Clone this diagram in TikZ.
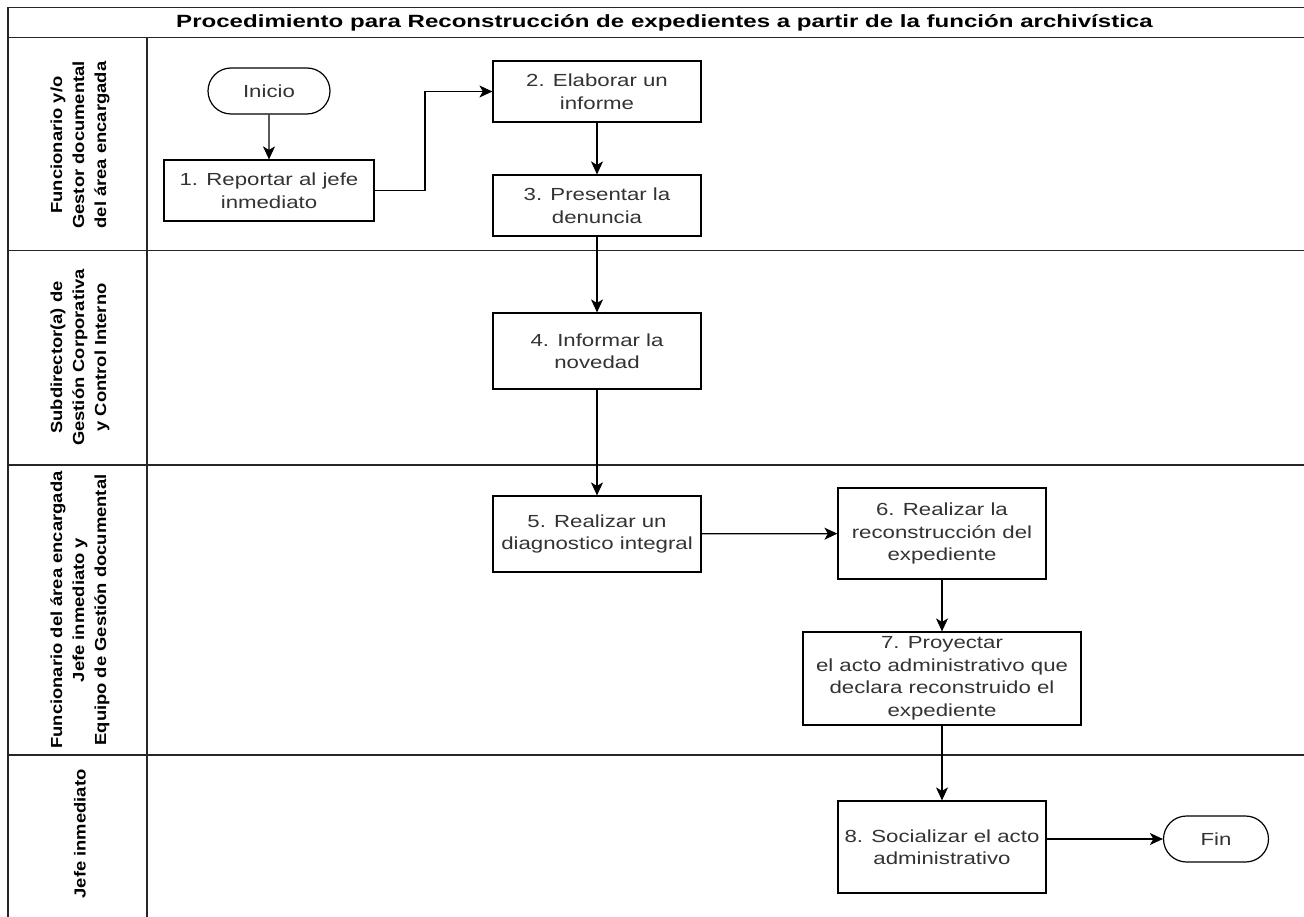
\documentclass[tikz,border=0pt]{standalone}
\usepackage{fontspec}
\setmainfont{Liberation Sans}
\newfontfamily\nodefont[FakeStretch=1.27]{Liberation Sans}
\newfontfamily\titlefont[FakeStretch=1.36]{Liberation Sans}
\newfontfamily\lanefont[FakeStretch=1.15]{Liberation Sans}
\usetikzlibrary{arrows.meta,shapes.misc}
\tikzset{
  laneline/.style={draw=black!85, line width=1.6pt},
  procbox/.style={draw=black, line width=1.2pt, fill=white, align=center, inner sep=0pt,
    text=black!80, font=\nodefont\fontsize{17.5}{22.5}\selectfont},
  termin/.style={rounded rectangle, draw=black, line width=1.2pt, fill=white, inner sep=0pt,
    text=black!80, font=\nodefont\fontsize{17.5}{22.5}\selectfont},
  flow/.style={-{Stealth[length=13pt,width=12pt,inset=3.5pt]}, line width=1.2pt},
  lanelbl/.style={rotate=90, align=center, text=black, font=\lanefont\bfseries\fontsize{16}{22}\selectfont},
  titlelbl/.style={text=black, font=\titlefont\bfseries\fontsize{17.7}{20}\selectfont}
}
\begin{document}
\begin{tikzpicture}[x=1pt,y=-1pt]
\useasboundingbox (0,0) rectangle (1304,917);
\clip (0,0) rectangle (1304,917);
\fill[white] (0,0) rectangle (1304,917);
% pool frame
\draw[laneline] (8,7.5) -- (1330,7.5);
\draw[laneline] (8,37.5) -- (1330,37.5);
\draw[laneline] (8,7.5) -- (8,940);
\draw[laneline] (147,37.5) -- (147,940);
\draw[laneline] (8,250.5) -- (1330,250.5);
\draw[laneline] (8,465) -- (1330,465);
\draw[laneline] (8,755) -- (1330,755);
% title
\node[titlelbl] (title) at (664.5,22.5) {Procedimiento para Reconstrucción de expedientes a partir de la función archivística};
% lane labels
\node[lanelbl] (l1) at (80,145) {Funcionario y/o\\Gestor documental\\del área encargada};
\node[lanelbl] (l2) at (80,357.5) {Subdirector(a) de\\Gestión Corporativa\\y Control Interno};
\node[lanelbl] (l3) at (80,610) {Funcionario del área encargada\\Jefe inmediato y\\Equipo de Gestión documental};
\node[lanelbl] (l4) at (80,834) {Jefe inmediato};
% nodes
\node[termin, minimum width=122pt, minimum height=46pt] (ini) at (269,91) {Inicio};
\node[procbox, minimum width=210pt, minimum height=61pt] (b1) at (269,190.5) {1. Reportar al jefe\\inmediato};
\node[procbox, minimum width=208pt, minimum height=61pt] (b2) at (597,91.5) {2. Elaborar un\\informe};
\node[procbox, minimum width=208pt, minimum height=61pt] (b3) at (597,205.5) {3. Presentar la\\denuncia};
\node[procbox, minimum width=208pt, minimum height=76pt] (b4) at (597,351) {4. Informar la\\novedad};
\node[procbox, minimum width=208pt, minimum height=76pt] (b5) at (597,534) {5. Realizar un\\diagnostico integral};
\node[procbox, minimum width=208pt, minimum height=91pt] (b6) at (942,533.5) {6. Realizar la\\reconstrucción del\\expediente};
\node[procbox, minimum width=278pt, minimum height=93pt] (b7) at (942,678.5) {7. Proyectar\\el acto administrativo que\\declara reconstruido el\\expediente};
\node[procbox, minimum width=208pt, minimum height=92pt] (b8) at (942,847) {8. Socializar el acto\\administrativo};
\node[termin, minimum width=105pt, minimum height=46pt] (fin) at (1216,839) {Fin};
% connectors
\coordinate (k1) at (425,190.5);
\draw[flow] (ini) -- (b1);
\draw[flow] (b1.east) -- (k1) |- (b2.west);
\draw[flow] (b2) -- (b3);
\draw[flow] (b3) -- (b4);
\draw[flow] (b4) -- (b5);
\draw[flow] (b5) -- (b6);
\draw[flow] (b6) -- (b7);
\draw[flow] (b7) -- (b8);
\draw[flow] (b8.east |- fin.west) -- (fin.west);
\end{tikzpicture}
\end{document}
